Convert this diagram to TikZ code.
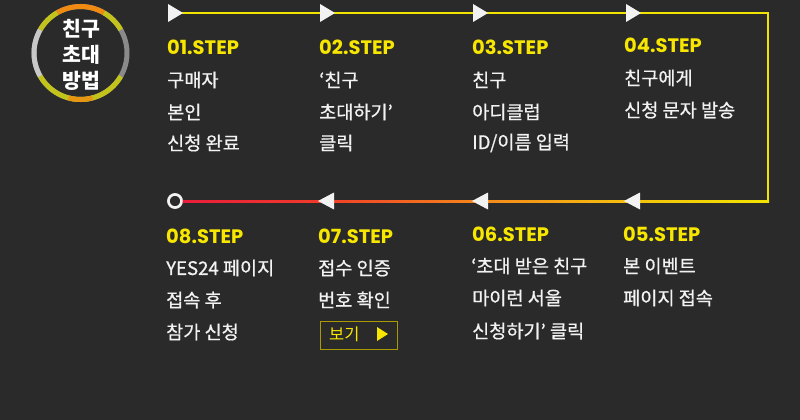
\documentclass[tikz,border=0pt]{standalone}
\usepackage{fontspec}
\setmainfont{Noto Sans CJK KR}
\newfontfamily\bodyfont{Noto Sans CJK KR}[FakeBold=0.7]
\newfontfamily\stepfont{Poppins}
\usetikzlibrary{calc}
\definecolor{bg}{HTML}{2A2A2A}
\definecolor{lineyellow}{HTML}{F2E400}
\definecolor{stepyellow}{HTML}{F7E600}
\definecolor{boxborder}{HTML}{A89A00}
\definecolor{gred}{HTML}{EA1C3C}
\definecolor{gredor}{HTML}{F03A2A}
\definecolor{gorange}{HTML}{F5841C}
\definecolor{gyor}{HTML}{F5C00E}
\definecolor{ringorange}{HTML}{F08A10}
\definecolor{ringyg}{HTML}{C2C41C}
\definecolor{ringgray}{HTML}{8A8A8A}
\definecolor{ringlight}{HTML}{C8C8C8}
\definecolor{txt}{HTML}{F2F2F2}
\pgfdeclarehorizontalshading{bline}{100bp}{color(0bp)=(gred); color(25bp)=(gred); color(37bp)=(gredor); color(50bp)=(gorange); color(63bp)=(gyor); color(75bp)=(lineyellow); color(100bp)=(lineyellow)}
\tikzset{
  steplabel/.style={anchor=west, inner sep=0pt, text=stepyellow, font=\stepfont\bfseries\fontsize{19.5}{19.5}\selectfont},
  bodytext/.style={anchor=west, inner sep=0pt, text=txt, font=\bodyfont\fontsize{18.6}{18.6}\selectfont},
  flowline/.style={lineyellow, line width=2pt},
  tri/.style={fill=txt, draw=none},
  ring/.style={line width=5pt},
}
\begin{document}
\begin{tikzpicture}[x=1pt,y=-1pt]
\fill[bg] (0,0) rectangle (800,420);
\useasboundingbox (0,0) rectangle (800,420);

% badge circle
\coordinate (c) at (80.5,53);
\draw[ring, ringgray] (c) circle[radius=46.5pt];
\draw[ring, ringlight] (c) ++(150:46.5pt) arc[start angle=150, end angle=210, radius=46.5pt];
\draw[ring, ringyg] (c) ++(30:46.5pt) arc[start angle=30, end angle=60, radius=46.5pt];
\draw[ring, ringorange] (c) ++(60:46.5pt) arc[start angle=60, end angle=120, radius=46.5pt];
\draw[ring, ringyg] (c) ++(120:46.5pt) arc[start angle=120, end angle=150, radius=46.5pt];
\draw[ring, ringyg] (c) ++(210:46.5pt) arc[start angle=210, end angle=330, radius=46.5pt];
\draw[ring, ringorange!80!ringyg] (c) ++(255:46.5pt) arc[start angle=255, end angle=285, radius=46.5pt];
\node[align=center, text=white, font=\bfseries\fontsize{20.5}{26}\selectfont, inner sep=0pt] (title) at (81,55) {친구\\초대\\방법};

% path corners
\coordinate (tl) at (170,13);
\coordinate (tr) at (768,13);
\coordinate (br) at (768,201);
\node[circle, draw=txt, fill=bg, line width=2.5pt, minimum size=13pt, inner sep=0pt] (o8) at (175,201) {};

\draw[flowline] (tl) -- (tr) -- (br);
\shade[shading=bline] ($(o8.center)+(0,-1)$) rectangle ($(br)+(1,1)$);
\node[circle, draw=txt, fill=bg, line width=2.5pt, minimum size=13pt, inner sep=0pt] at (o8) {};

% top triangles (pointing right)
\foreach \n/\x in {t1/168,t2/320,t3/473,t4/626}{
  \coordinate (\n) at (\x,13);
  \fill[tri] (\n) ++(0,-9) -- ++(15,9) -- ++(-15,9) -- cycle;
}
% bottom triangles (pointing left)
\foreach \n/\x in {t7/318,t6/472,t5/624}{
  \coordinate (\n) at (\x,201);
  \fill[tri] (\n) -- ++(16,-8.5) -- ++(0,17) -- cycle;
}

% top row
\node[steplabel] (s1) at (167,47) {01.STEP};
\node[bodytext] (s1a) at (167,80) {구매자};
\node[bodytext] (s1b) at (167,112) {본인};
\node[bodytext] (s1c) at (167,143) {신청 완료};

\node[steplabel] (s2) at (319,47) {02.STEP};
\node[bodytext] (s2a) at (319,80) {‘친구};
\node[bodytext] (s2b) at (319,112) {초대하기’};
\node[bodytext] (s2c) at (319,143) {클릭};

\node[steplabel] (s3) at (472,47) {03.STEP};
\node[bodytext] (s3a) at (472,80) {친구};
\node[bodytext] (s3b) at (472,112) {아디클럽};
\node[bodytext] (s3c) at (472,143) {ID/이름 입력};

\node[steplabel] (s4) at (624,45) {04.STEP};
\node[bodytext] (s4a) at (624,78) {친구에게};
\node[bodytext] (s4b) at (624,110) {신청 문자 발송};

% bottom row
\node[steplabel] (s8) at (166,236) {08.STEP};
\node[bodytext] (s8a) at (166,268) {YES24 페이지};
\node[bodytext] (s8b) at (166,300) {접속 후};
\node[bodytext] (s8c) at (166,332) {참가 신청};

\node[steplabel] (s7) at (318,236) {07.STEP};
\node[bodytext] (s7a) at (318,268) {접수 인증};
\node[bodytext] (s7b) at (318,300) {번호 확인};
\node[draw=boxborder, line width=1pt, minimum width=77pt, minimum height=28pt, inner sep=0pt, anchor=north west] (btn) at (319.5,320.5) {};
\node[anchor=west, inner sep=0pt, text=stepyellow, font=\fontsize{16.5}{16.5}\selectfont] (btntxt) at (329,334) {보기};
\fill[stepyellow] (377,327) -- (388,334) -- (377,341) -- cycle;

\node[steplabel] (s6) at (472,234) {06.STEP};
\node[bodytext] (s6a) at (471,266) {‘초대 받은 친구};
\node[bodytext] (s6b) at (472,298) {마이런 서울};
\node[bodytext] (s6c) at (472,331) {신청하기’ 클릭};

\node[steplabel] (s5) at (623,234) {05.STEP};
\node[bodytext] (s5a) at (623,266) {본 이벤트};
\node[bodytext] (s5b) at (623,298) {페이지 접속};
\end{tikzpicture}
\end{document}
